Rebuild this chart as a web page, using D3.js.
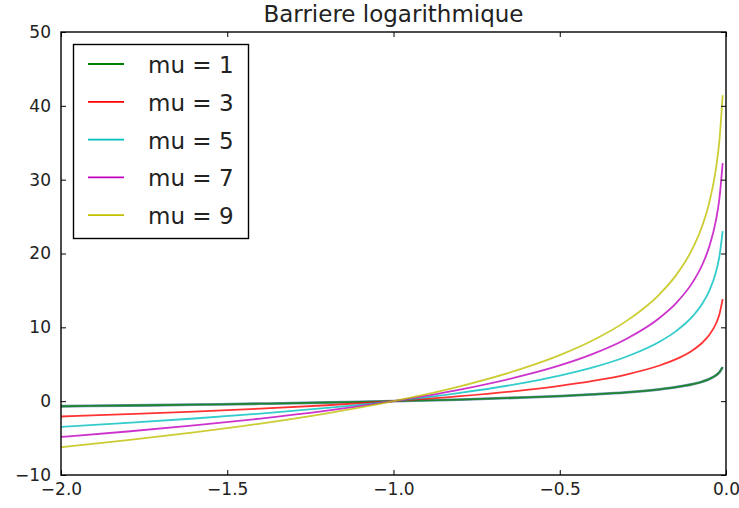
<!DOCTYPE html>
<html><head><meta charset="utf-8">
<script src="https://cdn.jsdelivr.net/npm/d3@7/dist/d3.min.js"></script>
<style>body{margin:0;background:#fff;} text{font-family:"DejaVu Sans",sans-serif;}</style>
</head><body><svg id="c" width="739" height="508"></svg>
<script>
const title = "Barriere logarithmique";
const xs = [-2, -1.8, -1.6, -1.4, -1.2, -1.0, -0.8, -0.6, -0.5, -0.4, -0.3, -0.2, -0.15, -0.1, -0.07, -0.05, -0.03, -0.02, -0.01];
const mu1 = [-0.69, -0.59, -0.47, -0.34, -0.18, 0, 0.22, 0.51, 0.69, 0.92, 1.20, 1.61, 1.90, 2.30, 2.66, 3.00, 3.51, 3.91, 4.61];
const mu3 = [-2.08, -1.76, -1.41, -1.01, -0.55, 0, 0.67, 1.53, 2.08, 2.75, 3.61, 4.83, 5.69, 6.91, 7.98, 8.99, 10.52, 11.74, 13.82];
const mu5 = [-3.47, -2.94, -2.35, -1.68, -0.91, 0, 1.12, 2.55, 3.47, 4.58, 6.02, 8.05, 9.49, 11.51, 13.30, 14.98, 17.53, 19.56, 23.03];
const mu7 = [-4.85, -4.11, -3.29, -2.36, -1.28, 0, 1.56, 3.58, 4.85, 6.41, 8.43, 11.27, 13.28, 16.12, 18.61, 20.97, 24.55, 27.38, 32.24];
const mu9 = [-6.24, -5.29, -4.23, -3.03, -1.64, 0, 2.01, 4.60, 6.24, 8.25, 10.84, 14.48, 17.07, 20.72, 23.93, 26.96, 31.56, 35.21, 41.45];
const seriesNames = ["mu = 1", "mu = 3", "mu = 5", "mu = 7", "mu = 9"];
const seriesColors = ["#008000", "#ff0000", "#00bfbf", "#bf00bf", "#bfbf00"];
const xTicks = [-2.0, -1.5, -1.0, -0.5, 0.0];
const yTicks = [-10, 0, 10, 20, 30, 40, 50];

const series = [mu1, mu3, mu5, mu7, mu9];
const svg = d3.select("#c");
const L = 61, R = 726, T = 32, B = 475;
const x = d3.scaleLinear().domain([-2, 0]).range([L, R]);
const y = d3.scaleLinear().domain([-10, 50]).range([B, T]);
const fmtX = d3.format(".1f");
const minus = s => s.replace("-", "\u2212");

const line = d3.line().x((d, i) => x(xs[i])).y(d => y(d)).curve(d3.curveMonotoneX);
const g = svg.append("g");
g.append("path").attr("d", line(mu1)).attr("fill", "none").attr("stroke", "#1f4f8f").attr("stroke-opacity", 0.6).attr("stroke-width", 2.8);
series.forEach((s, k) => {
  g.append("path").attr("d", line(s)).attr("fill", "none")
   .attr("stroke", seriesColors[k]).attr("stroke-width", 1.8).attr("stroke-opacity", k === 0 ? 0.75 : 0.8);
});

const axB = d3.axisBottom(x).tickValues(xTicks).tickSizeInner(-5).tickSizeOuter(0).tickPadding(8).tickFormat(d => minus(fmtX(d)));
const axT = d3.axisTop(x).tickValues(xTicks).tickSizeInner(-5).tickSizeOuter(0).tickFormat("");
const axL = d3.axisLeft(y).tickValues(yTicks).tickSizeInner(-5).tickSizeOuter(0).tickPadding(10).tickFormat(d => minus(String(d)));
const axR = d3.axisRight(y).tickValues(yTicks).tickSizeInner(-5).tickSizeOuter(0).tickFormat("");
[[axB, `translate(0,${B})`], [axT, `translate(0,${T})`], [axL, `translate(${L},0)`], [axR, `translate(${R},0)`]].forEach(([a, t]) => {
  const gg = svg.append("g").attr("transform", t).call(a);
  gg.select(".domain").remove();
  gg.selectAll("line").attr("stroke", "#000");
  gg.selectAll("text").attr("font-size", 17).attr("fill", "#222").style("font-family", "DejaVu Sans");
});
svg.append("rect").attr("x", L).attr("y", T).attr("width", R - L).attr("height", B - T)
  .attr("fill", "none").attr("stroke", "#000").attr("stroke-width", 1.4);

svg.append("text").attr("x", (L + R) / 2).attr("y", 22).attr("text-anchor", "middle")
  .attr("font-size", 23).attr("fill", "#222").text(title);

const lg = svg.append("g");
lg.append("rect").attr("x", 73.5).attr("y", 44.5).attr("width", 175).attr("height", 194)
  .attr("fill", "#fff").attr("stroke", "#000").attr("stroke-width", 1.4);
seriesNames.forEach((n, k) => {
  const yy = 64 + k * 37.8;
  lg.append("line").attr("x1", 88).attr("x2", 124).attr("y1", yy).attr("y2", yy)
    .attr("stroke", seriesColors[k]).attr("stroke-width", 1.8);
  lg.append("text").attr("x", 148).attr("y", yy + 9).attr("font-size", 23).attr("fill", "#222").text(n);
});
</script></body></html>
